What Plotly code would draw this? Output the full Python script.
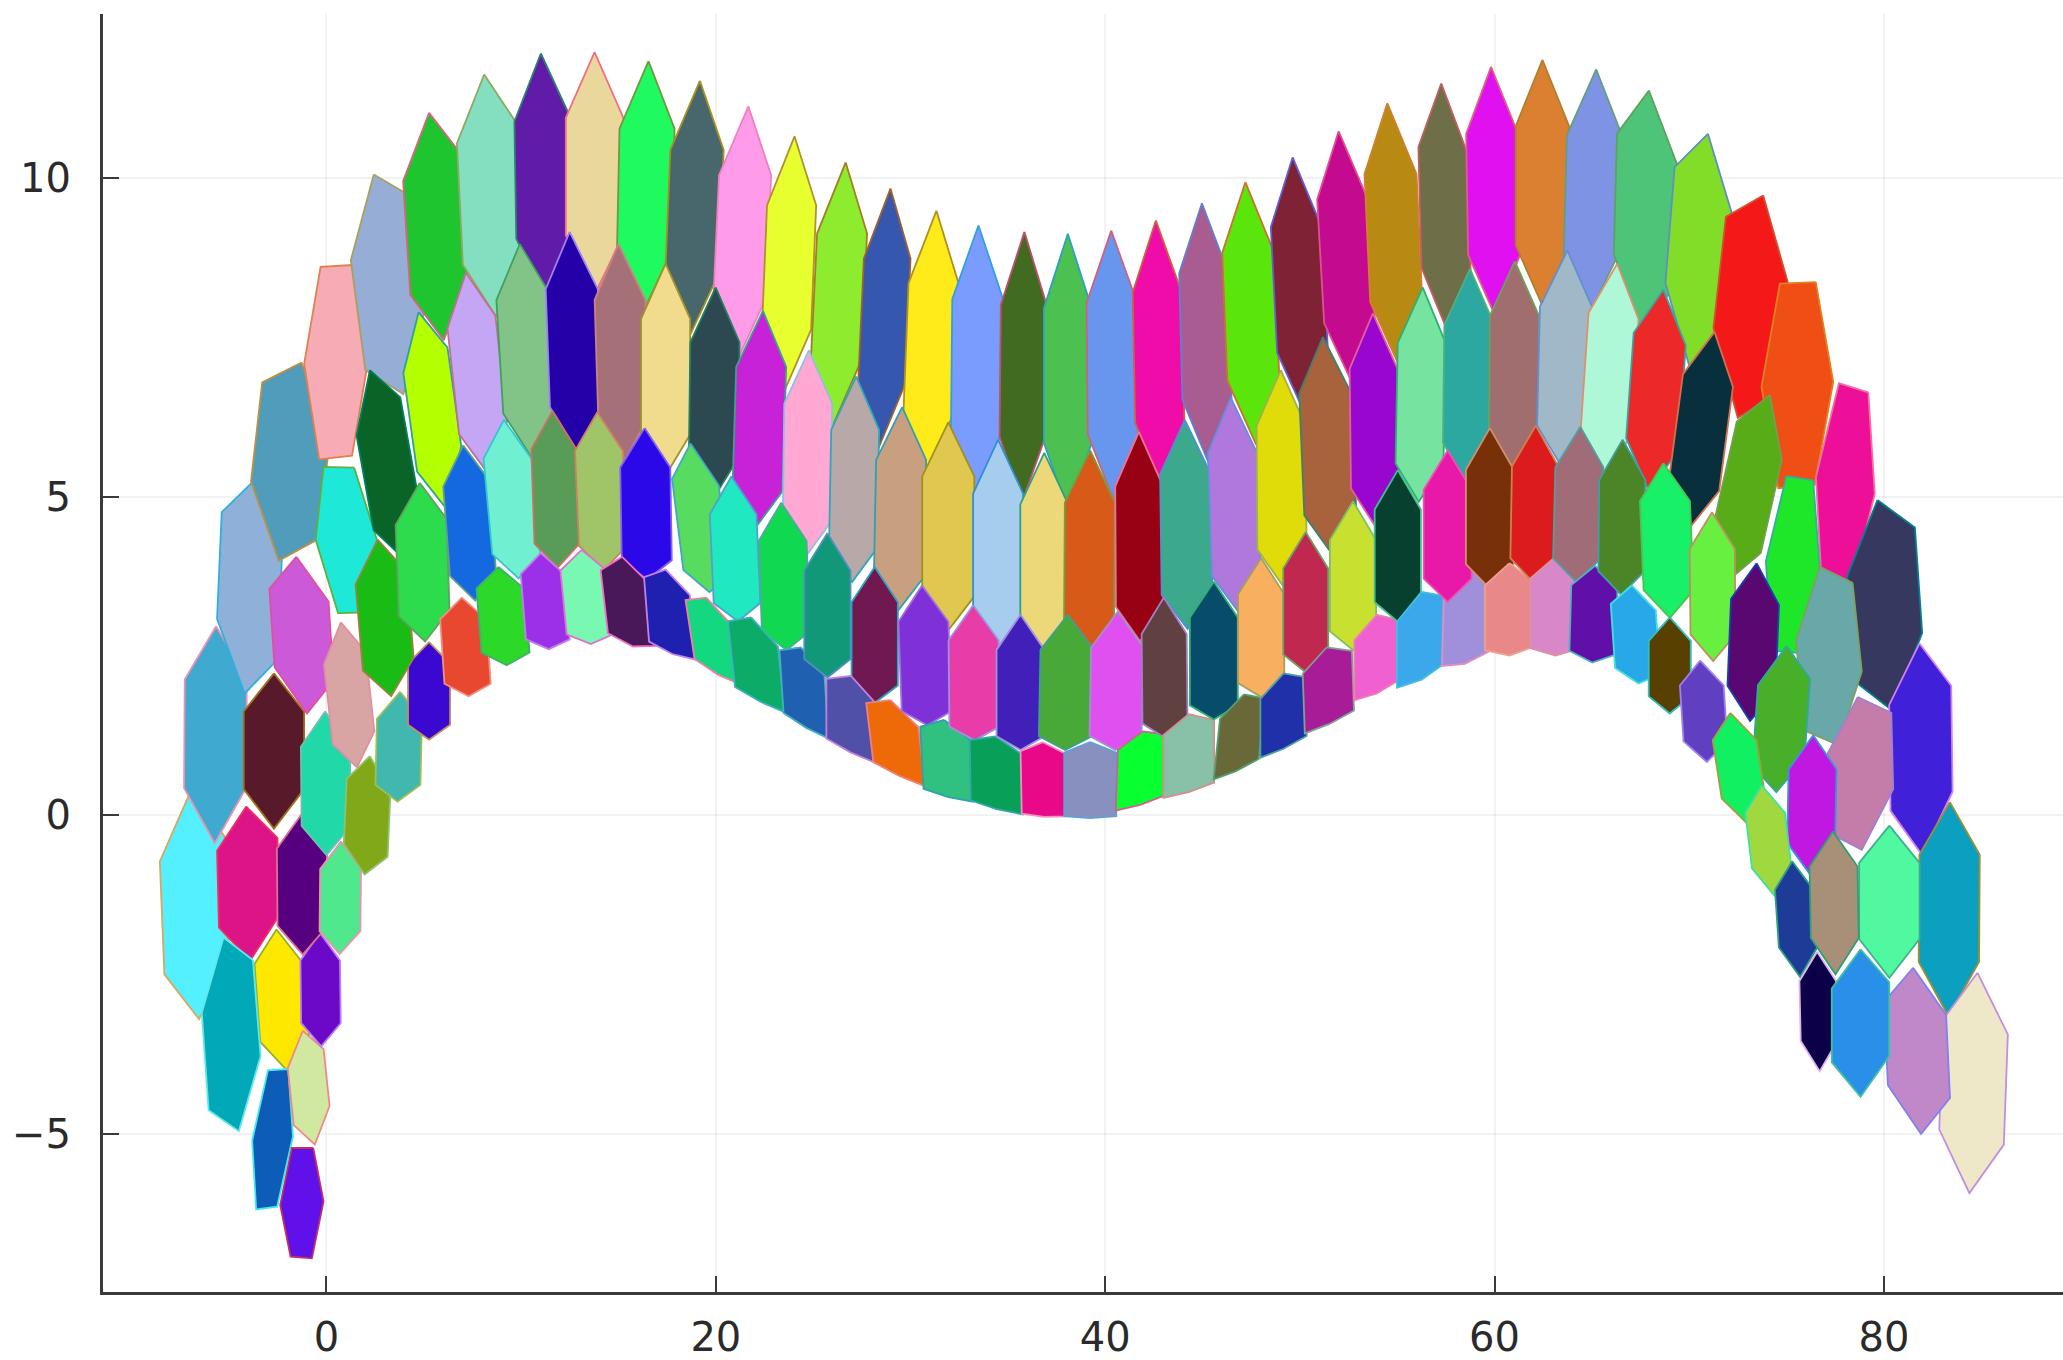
import numpy as np
import plotly.graph_objects as go

# Each cell: upper tip, lower tip, half width, tilt of the waist, and how far the
# upper and lower shoulders sit from the centre towards the tips (data units / fractions)
top_x = [-7.02,-5.67,-3.71,-1.28,1.35,2.43,5.27,8.10,11.01,13.77,16.54,19.18,21.67,24.04,26.67,28.97,31.33,33.49,35.85,38.08,40.31,42.60,44.97,47.2,49.63,51.99,54.49,57.26,59.82,62.46,65.22,67.93,70.96,73.8,76.5,79.2,79.67,81.83,83.39,84.81,
 -4.12,-2.70,-1.55,1.42,2.23,4.73,7.16,9.93,12.49,14.99,17.42,19.99,22.42,24.78,27.21,29.57,31.94,34.5,36.87,39.23,41.73,44.09,46.45,49.02,51.18,53.75,56.31,58.74,61.04,63.74,66.3,68.67,71.3,74.14,76.37,78.39,78.66,80.28,81.5,
 -2.57,
 -3.78,-1.96,-.68,-1.22,-.34,-1.28,.74,-.07,.74,2.23,3.78,5.27,2.63,4.79,6.95,7.02,9.11,8.84,11.61,11.01,13.91,13.1,16.34,15.19,17.42,18.7,20.8,23.36,19.51,21.81,24.37,25.73,28.16,26.94,28.97,30.59,31.73,33.22,34.37,35.65,36.8,38.08,39.23,40.65,41.93,43.01,44.29,45.58,47.13,48.01,50.3,49.16,51.38,52.73,53.95,55.03,56.25,58.61,57.59,59.76,60.77,62.12,63.13,64.41,65.16,66.58,67.05,68.67,69.0,71.17,73.46,70.56,75.0,72.11,76.37,73.73,75.29,77.38,76.57,78.8]
top_y = [.35,2.97,5.26,7.11,8.64,10.06,11.03,11.63,11.96,11.98,11.84,11.53,11.13,10.66,10.25,9.84,9.49,9.26,9.16,9.13,9.18,9.34,9.61,9.94,10.33,10.74,11.18,11.49,11.75,11.86,11.71,11.38,10.7,9.73,8.37,6.64,4.95,2.70,.21,-2.47,
 .14,2.23,4.06,5.46,6.99,7.90,8.52,8.97,9.16,8.97,8.66,8.29,7.92,7.3,6.89,6.41,6.17,5.9,5.69,5.73,6.02,6.21,6.56,6.99,7.51,7.88,8.29,8.58,8.7,8.87,8.66,8.25,7.59,6.6,5.26,3.65,1.86,-.16,-2.39,
 -1.79,
 -2.27,-3.98,-5.22,-3.38,-1.84,.02,-.41,1.63,3.03,.93,1.94,2.72,4.33,5.22,3.42,5.81,6.21,3.9,6.35,4.12,6.33,4.17,6.08,4.06,3.86,5.84,5.32,4.91,3.42,3.11,2.64,4.43,3.9,2.19,1.81,3.61,1.5,3.3,1.24,3.15,1.15,3.15,1.15,3.2,1.32,3.42,1.59,3.67,1.9,4.04,4.45,2.23,2.64,4.93,3.15,5.42,3.51,3.88,5.73,6.08,3.96,6.12,4.06,6.1,3.92,5.9,3.61,5.53,3.11,4.76,3.96,2.43,2.66,1.61,1.26,.47,-.72,-.25,-2.14,-2.1]
bot_x = [-6.55,-5.74,-4.19,-2.43,-.34,3.92,6.01,8.71,11.21,13.77,16.27,18.64,21.07,23.50,26.0,28.36,30.79,33.35,35.72,38.08,40.44,42.87,45.31,47.74,50.30,52.73,55.10,57.59,60.03,62.46,64.89,67.59,70.02,72.52,74.61,76.84,80.42,81.97,83.32,84.4,
 -3.92,-2.70,-1.01,.61,3.98,6.14,8.30,10.6,12.9,15.33,17.42,19.85,22.08,24.65,27.01,29.37,31.94,34.5,36.87,39.16,41.79,44.23,46.79,49.09,51.65,53.88,56.11,58.61,60.97,63.47,65.56,67.93,69.95,71.98,74.27,75.96,78.86,80.28,81.9,
 -2.03,
 -6.01,-3.58,-1.82,-.61,-.27,-1.22,.68,0,1.55,1.96,3.65,5.27,3.31,5.06,7.29,7.63,9.86,9.25,11.88,11.41,14.25,13.57,16.47,15.73,17.76,19.65,21.13,23.63,20.12,22.28,24.64,25.73,28.16,26.94,29.44,30.86,31.94,33.29,34.43,35.65,36.87,37.95,39.23,40.52,41.8,43.08,44.29,45.58,46.72,48.01,50.3,49.16,51.52,52.73,53.95,55.03,56.25,58.48,57.59,59.76,60.77,61.98,63.13,64.21,65.02,66.51,67.39,69.0,69.0,71.23,73.13,70.9,74.48,72.99,76.23,74.41,75.69,77.51,76.7,78.8]
bot_y = [-3.13,-.37,1.98,4.06,5.65,6.68,7.53,7.90,8.25,8.25,7.98,7.59,7.20,6.72,6.19,5.84,5.36,5.05,4.99,4.87,5.03,5.22,5.61,5.90,6.35,6.83,7.13,7.67,7.92,8.08,7.96,7.67,7.13,6.31,5.20,3.75,1.71,-.56,-3.09,-5.86,
 -2.23,-.16,1.65,3.22,4.08,4.87,5.42,5.65,5.77,5.65,5.40,5.03,4.6,4.14,3.73,3.28,2.97,2.7,2.64,2.64,2.8,2.99,3.28,3.69,4.17,4.6,4.99,5.26,5.46,5.53,5.38,5.16,4.54,3.73,2.64,1.38,-.49,-2.5,-4.95,
 -3.96,
 -4.58,-6.14,-6.89,-5.13,-3.59,-2.14,-2.14,-.58,.8,-.89,.25,1.22,1.92,2.78,1.9,3.42,3.77,2.39,3.94,2.64,3.9,2.72,3.75,2.68,2.56,3.55,3.09,2.64,2.23,1.81,1.4,2.21,1.81,1.01,.64,1.46,.31,1.22,.12,1.07,0,1.07,-.02,1.07,.19,1.26,.39,1.55,.72,1.9,2.29,1.07,1.46,2.64,1.94,3.09,2.16,2.41,3.4,3.61,2.54,3.71,2.54,3.71,2.43,3.51,2.1,3.15,1.63,2.47,1.53,.87,.41,-.1,-.89,-1.24,-2.5,-2.45,-3.98,-4.37]
half_w = [1.55,1.49,1.45,1.62,1.15,1.45,1.42,1.45,1.32,1.38,1.32,1.28,1.25,1.18,1.2,1.12,1.2,1.22,1.1,1.15,1.22,1.18,1.18,1.25,1.22,1.22,1.25,1.18,1.25,1.28,1.32,1.45,1.38,1.49,1.28,.86,1.62,1.49,1.45,1.55,
 1.45,1.45,1.42,1.28,1.05,1.06,1.15,1.28,1.25,1.22,1.18,1.18,1.2,1.15,1.15,1.2,1.25,1.2,1.15,1.2,1.15,1.22,1.18,1.18,1.25,1.15,1.15,1.2,1.18,1.25,1.2,1.25,1.2,1.08,.8,1.01,1.56,1.45,1.49,
 1.18,
 .89,.6,.76,.86,.95,1.2,.98,1.18,1.0,1.05,1.08,1.01,1.22,1.22,1.11,1.1,1.15,1.15,1.08,1.05,1.15,1.11,1.2,1.15,1.1,1.12,1.12,1.15,1.11,1.2,1.08,1.11,1.11,1.18,1.25,1.2,1.18,1.2,1.25,1.15,1.08,1.28,1.25,1.25,1.18,1.08,1.22,1.15,1.08,1.11,1.08,1.11,1.18,1.11,1.08,1.11,1.18,1.11,1.15,1.15,1.18,1.11,1.22,1.15,1.11,1.11,1.08,1.2,1.01,1.08,1.15,1.05,1.25,1.05,1.15,.95,.92,1.15,.88,1.38]
tilt = [.2,0,-.32,-.45,-.72,.5,.2,.15,.05,0,0,0,0,0,0,0,0,0,0,0,0,0,0,0,0,0,0,-.05,0,0,0,-.25,-.37,-.52,-.77,-.87,.38,.15,0,-.12,
 .1,0,-.1,-.57,.3,.2,.1,.05,0,0,0,0,0,0,0,0,0,0,0,0,0,0,0,0,0,0,0,0,0,0,-.05,-.1,-.1,-.3,-.72,-.82,.34,0,-.1,
 0,
 -.93,-.52,-.42,.15,0,0,0,0,.1,-.1,0,0,.1,.05,0,.05,0,0,0,0,0,0,0,-.1,-.14,-.05,0,0,-.2,-.2,-.2,0,0,-.19,-.19,0,-.1,0,-.11,0,-.02,0,0,0,.12,0,.12,0,.16,0,0,.17,.18,0,.16,0,.2,.11,0,0,.03,0,0,0,-.03,0,-.05,0,0,0,-.05,0,.05,0,0,0,0,0,0,.05]
upper_frac = [.5,.5,.5,.5,.5,.5,.5,.5,.45,.45,.45,.45,.45,.45,.45,.45,.45,.45,.45,.45,.45,.45,.45,.45,.45,.45,.45,.45,.45,.45,.45,.5,.5,.5,.5,.5,.5,.5,.5,.5,
 .5,.5,.5,.5,.5,.5,.5,.5,.47,.47,.47,.47,.47,.47,.47,.47,.47,.47,.47,.47,.47,.47,.47,.47,.47,.47,.47,.47,.47,.47,.5,.5,.5,.5,.5,.5,.5,.5,.5,
 .5,
 .5,.5,.5,.5,.5,.5,.5,.5,.5,.5,.5,.55,.5,.5,.55,.5,.5,.55,.5,.55,.5,.55,.47,.55,.6,.47,.47,.47,.6,.6,.6,.47,.47,.6,.6,.47,.65,.47,.7,.47,.72,.47,.72,.47,.7,.47,.65,.47,.62,.47,.47,.6,.6,.47,.6,.47,.6,.55,.47,.47,.55,.47,.55,.47,.55,.47,.55,.5,.5,.5,.5,.5,.5,.5,.5,.5,.5,.5,.5,.5]
lower_frac = [.5,.5,.5,.5,.5,.5,.5,.5,.52,.52,.52,.52,.52,.52,.52,.52,.52,.52,.52,.52,.52,.52,.52,.52,.52,.52,.52,.52,.52,.52,.52,.5,.5,.5,.5,.5,.5,.5,.5,.5,
 .5,.5,.5,.5,.5,.5,.55,.55,.6,.6,.62,.62,.68,.68,.68,.68,.68,.68,.68,.68,.68,.68,.68,.68,.65,.65,.65,.62,.62,.62,.6,.55,.55,.5,.5,.5,.5,.5,.5,
 .6,
 .5,.5,.55,.5,.6,.6,.6,.6,.6,.6,.7,.7,.6,.65,.75,.65,.7,.75,.7,.8,.7,.8,.75,.85,.92,.75,.75,.75,.92,.95,.95,.75,.75,.95,.95,.8,.95,.8,.95,.8,.95,.8,.95,.8,.95,.8,.95,.8,.95,.8,.75,.95,.95,.75,.92,.75,.9,.9,.7,.7,.85,.7,.85,.7,.8,.7,.75,.65,.65,.65,.6,.6,.6,.55,.55,.5,.5,.5,.5,.5]
fills = ["#55F0FF","#3FA9CF","#8FB0D8","#4F9DBB","#F7ABB5","#96AED6","#1FC52F","#84DEC0","#601CA8","#EAD79B","#1FFB5F","#48676D","#FF9BE8","#E8FF2F","#8EEC2F","#3558AE","#FFEB1A","#7A9CFF","#426B22","#4DC052","#6896EE","#F00CA8","#A85C90","#5AE60A","#7F2235","#C40A8E","#B88A12","#6E6E48","#E010F0","#DA8030","#7F93E4","#4DC478","#82DD28","#F51818","#EF4E14","#EE0F98","#36385F","#4020D8","#0CA0C0","#EEE8C8",
 "#DC1488","#581A2A","#CC5AD8","#1EE8D8","#0A6428","#B4FF00","#C4A6F4","#82C488","#2400A8","#A67078","#F0DC8C","#2C4850","#C822D8","#FFA8D4","#B8A8A8","#C8A080","#E0C850","#A6CCEE","#ECD878","#D85A18","#980014","#3CA88C","#B078DC","#E0DC0A","#A8623C","#9806D0","#76E4A0","#2CA8A0","#A06E6E","#A0B8C8","#AEF8D8","#EC2828","#08303C","#58AC18","#1EE628","#68A8A8","#C47CA8","#50F8A0","#C088C8",
 "#FFE800",
 "#00A8B8","#0C5CB8","#6010E8","#D0E8A0","#6C08C8","#560080","#50E88C","#20D8A8","#D8A4A4","#80A818","#40B8B0","#3A08D0","#18BC14","#2CDC4C","#E84830","#1468E0","#70F0D0","#2CD828","#589C58","#9C30E8","#A0C468","#78F8B0","#2A08E8","#481858","#2020B0","#58DC60","#20E8C0","#10D850","#14D880","#0CAC68","#2060B0","#109878","#701850","#5050A8","#EE6A08","#8030D8","#30C080","#E83CA8","#08A058","#4020B8","#E80888","#48A838","#8890C0","#E050F0","#08FF30","#604040","#88C0A8","#084C6C","#686838","#F8B060","#C02850","#2030A8","#A81C98","#C8E030","#F060D0","#084030","#3CA8EC","#A090DC","#E818A8","#783008","#E88888","#DC1C1C","#D888C8","#A06C78","#6010A8","#4C8428","#28A8E8","#18F068","#584000","#68F040","#580870","#6040C0","#48B028","#10F060","#C018E0","#A0D840","#1C3C98","#A89078","#0C0048","#2890E8"]
edges = ["#D8A860","#F090B0","#30B0E0","#C09040","#E08050","#A8A060","#E06080","#90A860","#308070","#F07080","#709840","#A89020","#F080C0","#B09030","#A08020","#A06030","#B09020","#30A0E0","#C05070","#30A0C0","#D06080","#D06040","#6080D0","#D07030","#6060D0","#E05090","#D08030","#C06060","#E06080","#B08030","#60A080","#60A060","#6090C0","#D05030","#E08020","#F070A0","#008090","#D080F0","#A09030","#C090E0",
 "#F03060","#A07020","#E050A0","#60B040","#008060","#30A0A0","#C07090","#40A060","#A080F0","#D08080","#A09030","#208060","#40A090","#90C0E0","#30A8B8","#30A0B0","#A09020","#3090D0","#30A080","#70A040","#F07090","#5090D0","#6090E0","#A0B050","#408070","#E060A0","#30B070","#50B080","#70A060","#6090D0","#E09070","#40A0A0","#D07050","#70A050","#30B0A0","#80A060","#A080D0","#40B090","#8080F0",
 "#90B030",
 "#60E8E8","#40E8F0","#C03060","#F08888","#B880F0","#E07090","#F090B0","#70C0B0","#E090A0","#90C070","#A0C050","#C09060","#A08040","#60A060","#F09080","#60A090","#30C8D0","#40B070","#D07060","#C080E0","#D08060","#E070D0","#8060F0","#F070C0","#C080F0","#40A8C0","#50A0D0","#50A8A0","#F080A0","#40B0C0","#40B0C0","#5090C0","#30A0C0","#C080E0","#F08080","#A070E0","#30A0B0","#A090E0","#30A8B0","#A090E0","#F090C0","#40A090","#60A0D0","#A090D0","#D06090","#A080C0","#D09090","#30B070","#50A070","#A0A060","#70A060","#50A0A0","#80A090","#80C060","#F080B0","#40C090","#40C0E0","#E090C0","#F050B0","#D09070","#F0A090","#D08050","#E090A0","#50A0A0","#50B0C0","#40A0A0","#40E0E0","#50C050","#30C0C0","#C09060","#1840B0","#A080F0","#30A8A0","#A0A040","#4090E0","#40E0A0","#30A080","#30A070","#E0B0F0","#40C0A0"]
x_ticks = [0, 20, 40, 60, 80]
y_ticks = [-5, 0, 5, 10]

fig = go.Figure()
for tx, ty, bx, by, w, tl, u, v, fc, ec in zip(top_x, top_y, bot_x, bot_y, half_w, tilt,
                                               upper_frac, lower_frac, fills, edges):
    cx, cy = (tx + bx) / 2, (ty + by) / 2
    sx, sy = (tx - bx) / 2, (ty - by) / 2
    w = w * 1.07
    low = 1.04  # the cells close up against the ones below them
    xs = [cx + sx, cx + w + u * sx, cx + w - v * sx, cx - low * sx, cx - w - v * sx, cx - w + u * sx, cx + sx]
    ys = [cy + sy, cy + tl + u * sy, cy + tl - v * low * sy, cy - low * sy, cy - tl - v * low * sy, cy - tl + u * sy, cy + sy]
    fig.add_trace(go.Scatter(x=xs, y=ys, mode="lines", fill="toself", fillcolor=fc,
                             line=dict(color=ec, width=1.8), hoverinfo="skip", showlegend=False))

axis = dict(showgrid=True, gridcolor="rgba(0,0,0,0.05)", gridwidth=2, zeroline=False,
            showline=True, linecolor="#3a3a3a", linewidth=3, ticks="inside", ticklen=16,
            tickwidth=2, tickcolor="#3a3a3a",
            tickfont=dict(family="DejaVu Sans", size=40, color="#2a2a2a"))
fig.update_layout(width=2063, height=1360, margin=dict(l=103, r=0, t=14, b=62),
                  plot_bgcolor="white", paper_bgcolor="white", showlegend=False,
                  xaxis=dict(axis, range=[-11.48, 89.2], tickvals=x_ticks, ticklabelstandoff=8),
                  yaxis=dict(axis, range=[-7.48, 12.58], tickvals=y_ticks, ticklabelstandoff=21))
fig.write_html("out.html", config=dict(displayModeBar=False),
               post_script="document.body.style.margin='0';")
